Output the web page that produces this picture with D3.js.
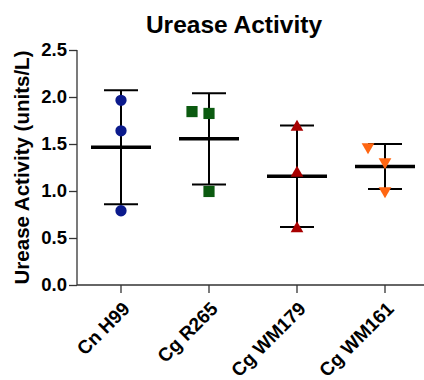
<!DOCTYPE html>
<html>
<script src="https://d3js.org/d3.v7.min.js"></script>

<head>
    <style>
        body {
            margin: 0;
            background-color: white;
            font-family: "Liberation Sans", Arial, Helvetica, sans-serif;
        }
    </style>
</head>

<body>
</body>
<script>
    const width = 424,
        height = 380;

    // strains, with the three replicate readings of each
    const strains = ["Cn H99", "Cg R265", "Cg WM179", "Cg WM161"];
    const replicates = [
        [1.965, 1.64, 0.79],
        [1.845, 1.825, 0.995],
        [1.68, 1.19, 0.60],
        [1.47, 1.31, 1.0]
    ];
    // which points are nudged sideways so they don't overlap (-1 = left)
    const jitter = [
        [0, 0, 0],
        [-1, 0, 0],
        [0, 0, 0],
        [-1, 0, 0]
    ];
    const colors = ["#0b1a8c", "#0b5a10", "#a80000", "#ff6612"];
    const shapes = [d3.symbolCircle, d3.symbolSquare, d3.symbolTriangle, "down"];
    const yTicks = [0, 0.5, 1.0, 1.5, 2.0, 2.5];

    const svg = d3.select("body").append("svg").attr("width", width).attr("height", height);

    const margin = { left: 77, top: 50, bottom: 95 };
    const x = d3.scalePoint()
        .domain(strains)
        .range([margin.left + 44, margin.left + 44 + 3 * 88]);
    const y = d3.scaleLinear()
        .domain([0, 2.5])
        .range([height - margin.bottom, margin.top]);

    // title
    svg.append("text")
        .attr("x", 234)
        .attr("y", 33)
        .attr("text-anchor", "middle")
        .attr("font-size", "24.5px")
        .attr("font-weight", "bold")
        .text("Urease Activity");

    // y axis
    const yAxis = svg.append("g")
        .attr("transform", `translate(${margin.left},0)`)
        .call(d3.axisLeft(y).tickValues(yTicks).tickFormat(d3.format(".1f")).tickSize(8).tickPadding(2));
    yAxis.selectAll("path, line").attr("stroke", "#333").attr("stroke-width", 1.3);
    yAxis.selectAll("text")
        .attr("font-size", "18.5px")
        .attr("font-weight", "bold")
        .attr("font-family", "Liberation Sans, Arial, sans-serif")
        .attr("fill", "black");
    yAxis.select(".domain").attr("d", `M0,${y(2.5)}V${y(0)}`);

    svg.append("text")
        .attr("transform", `translate(29,${(y(0) + y(2.5)) / 2}) rotate(-90)`)
        .attr("text-anchor", "middle")
        .attr("font-size", "20.5px")
        .attr("font-weight", "bold")
        .text("Urease Activity (units/L)");

    // x axis
    svg.append("line")
        .attr("x1", margin.left)
        .attr("x2", width + 10)
        .attr("y1", y(0))
        .attr("y2", y(0))
        .attr("stroke", "#333")
        .attr("stroke-width", 1.3);
    strains.forEach(s => {
        svg.append("line")
            .attr("x1", x(s))
            .attr("x2", x(s))
            .attr("y1", y(0))
            .attr("y2", y(0) + 8)
            .attr("stroke", "#333")
            .attr("stroke-width", 1.3);
        svg.append("text")
            .attr("transform", `translate(${x(s) + 10},${y(0) + 25}) rotate(-45)`)
            .attr("text-anchor", "end")
            .attr("font-size", "19px")
            .attr("font-weight", "bold")
            .text(s);
    });

    // mean and SD bars
    strains.forEach((s, i) => {
        const vals = replicates[i];
        const m = d3.mean(vals);
        const sd = d3.deviation(vals);
        const cx = x(s);
        svg.append("line")
            .attr("x1", cx).attr("x2", cx)
            .attr("y1", y(m + sd)).attr("y2", y(m - sd))
            .attr("stroke", "black").attr("stroke-width", 2);
        [m + sd, m - sd].forEach(v => {
            svg.append("line")
                .attr("x1", cx - 17).attr("x2", cx + 17)
                .attr("y1", y(v)).attr("y2", y(v))
                .attr("stroke", "black").attr("stroke-width", 2);
        });
        svg.append("line")
            .attr("x1", cx - 30).attr("x2", cx + 30)
            .attr("y1", y(m)).attr("y2", y(m))
            .attr("stroke", "black").attr("stroke-width", 3.5);
    });

    // replicate points
    strains.forEach((s, i) => {
        replicates[i].forEach((v, j) => {
            const px = x(s) + jitter[i][j] * 17;
            const shape = shapes[i];
            const down = shape === "down";
            const sym = d3.symbol()
                .type(down ? d3.symbolTriangle : shape)
                .size(shape === d3.symbolCircle ? 100 : shape === d3.symbolSquare ? 125 : 70);
            svg.append("path")
                .attr("d", sym())
                .attr("transform", `translate(${px},${y(v)})${down ? " rotate(180)" : ""}`)
                .attr("fill", colors[i]);
        });
    });
</script>

</html>
